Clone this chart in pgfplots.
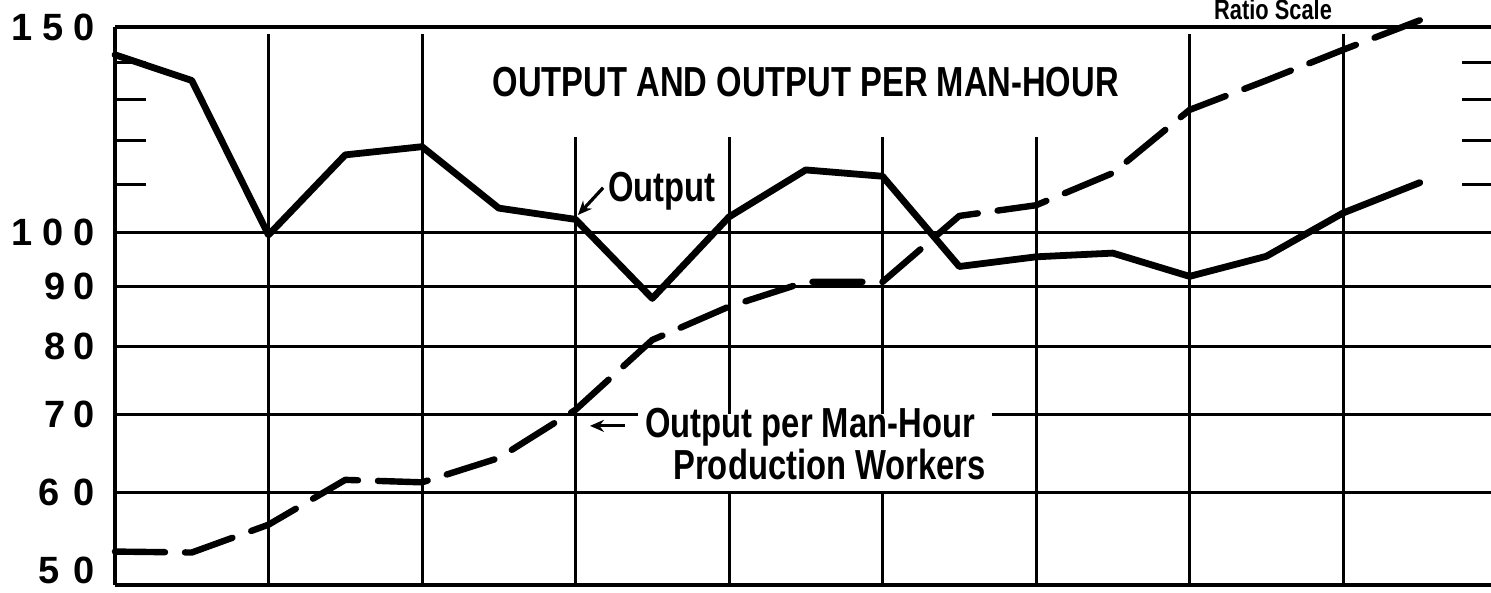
\documentclass[border=0pt]{standalone}
\usepackage{fontspec}
\setmainfont{Liberation Sans}
\newfontfamily\condfont[FakeStretch=0.78]{Liberation Sans}
\usepackage{pgfplots}
\pgfplotsset{compat=1.18}
\usetikzlibrary{arrows.meta}

\pgfplotstableread{
x y
0 142
0.5 135
1 99.6
1.5 116.6
2 118.5
2.5 105
3 102.7
3.5 87.9
4 103.2
4.5 113.2
5 111.8
5.5 93.6
6 95.4
6.5 96.1
7 91.8
7.5 95.5
8 104
8.5 110.4
}\outputdata

\pgfplotstableread{
x y
0 53.4
0.5 53.3
1 56.3
1.5 61.5
2 61.2
2.5 64.2
3 70.6
3.5 81
4 86.5
4.5 90.8
5 90.8
5.5 103.4
6 105.6
6.5 112.5
7 127.4
7.5 135
8 143.4
8.5 152
}\omhdata

\begin{document}
\begin{tikzpicture}
\begin{axis}[
  scale only axis, width=688pt, height=279pt,
  xmin=0, xmax=8.964, ymin=50, ymax=150, ymode=log,
  axis line style={draw=none},
  xtick=\empty,
  ytick={50,60,70,80,90,100,150},
  yticklabels={\raisebox{15pt}{5\hspace{7pt}0},6\hspace{7pt}0,7\hspace{4pt}0,8\hspace{4pt}0,9\hspace{4pt}0,1\hspace{5pt}0\hspace{5pt}0,1\hspace{5pt}5\hspace{5pt}0},
  major tick length=0pt,
  yticklabel style={font=\fontsize{19}{19}\selectfont\bfseries, anchor=east, inner sep=0pt, xshift=-10pt},
  clip=false,
]
% frame
\draw[line width=1.9pt] (axis cs:0,50) -- (axis cs:8.964,50);
\draw[line width=1.9pt] (axis cs:0,150) -- (axis cs:8.964,150);
\draw[line width=1.9pt] (axis cs:0,50) -- (axis cs:0,150);
% horizontal grid
\pgfplotsinvokeforeach{60,80,90,100}{\draw[line width=1.5pt] (axis cs:0,#1) -- (axis cs:8.964,#1);}
\draw[line width=1.5pt] (axis cs:0,70) -- (axis cs:3.41,70);
\draw[line width=1.5pt] (axis cs:5.71,70) -- (axis cs:8.964,70);
% minor ticks
\pgfplotsinvokeforeach{110,120,130,140}{
  \draw[line width=1.5pt] (axis cs:0,#1) -- (axis cs:0.2,#1);
  \draw[line width=1.5pt] (axis cs:8.775,#1) -- (axis cs:8.964,#1);}
% vertical grid
\pgfplotsinvokeforeach{1,2,7,8}{\draw[line width=1.5pt] (axis cs:#1,50) -- (axis cs:#1,148);}
\pgfplotsinvokeforeach{3,6}{\draw[line width=1.5pt] (axis cs:#1,50) -- (axis cs:#1,120.8);}
\pgfplotsinvokeforeach{4,5}{
  \draw[line width=1.5pt] (axis cs:#1,50) -- (axis cs:#1,60);
  \draw[line width=1.5pt] (axis cs:#1,70) -- (axis cs:#1,120.8);}

% data
\addplot[black, line width=3.4pt, line join=round, line cap=round] table[x=x,y=y] {\outputdata};
\addplot[black, line width=3.2pt, line cap=round, line join=round, dash pattern=on 25pt off 10pt] table[x=x,y=y] {\omhdata};

% texts
\node[font=\condfont\fontsize{21}{21}\selectfont\bfseries, anchor=center] at (axis cs:4.5,134.6) {OUTPUT AND OUTPUT PER MAN-HOUR};
\node[font=\condfont\fontsize{14}{14}\selectfont\bfseries, anchor=base, inner sep=0pt] at (axis cs:7.544,152.3) {Ratio Scale};
\node[font=\condfont\fontsize{21}{21}\selectfont\bfseries, anchor=base west, inner sep=0pt] at (axis cs:3.21,106.3) {Output};
\node[font=\condfont\fontsize{21}{21}\selectfont\bfseries, anchor=base west, inner sep=0pt] at (axis cs:3.453,66.9) {Output per Man-Hour};
\node[font=\condfont\fontsize{21}{21}\selectfont\bfseries, anchor=base west, inner sep=0pt] at (axis cs:3.635,61.5) {Production Workers};
\draw[line width=1.6pt, -{Stealth[length=7pt,width=6pt]}] (axis cs:3.18,109.3) -- (axis cs:3.016,103.6);
\draw[line width=1.6pt, -{Stealth[length=7pt,width=6pt]}] (axis cs:3.32,68.4) -- (axis cs:3.094,68.4);

\coordinate (BL) at (axis cs:0,50);
\end{axis}
\pgfresetboundingbox
\path[use as bounding box] (BL) ++(-57.5pt,-4pt) rectangle ++(745.5pt,296.5pt);
\end{tikzpicture}
\end{document}
